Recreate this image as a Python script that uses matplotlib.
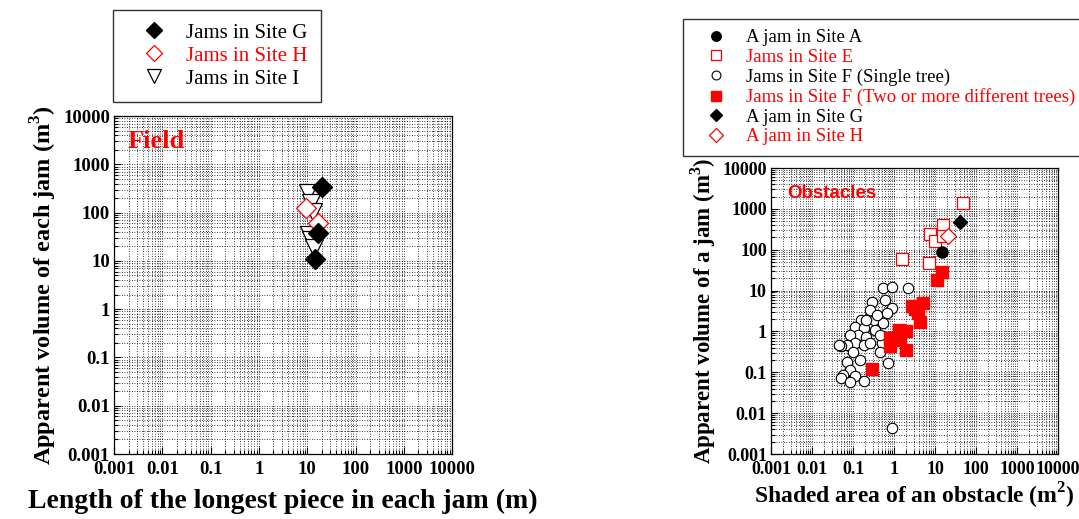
import matplotlib
matplotlib.use("Agg")
import matplotlib.pyplot as plt
from matplotlib.ticker import LogLocator, FuncFormatter

plt.rcParams['font.family'] = ['Liberation Serif', 'DejaVu Serif']
plt.rcParams['mathtext.fontset'] = 'custom'
plt.rcParams['mathtext.rm'] = 'Liberation Serif:bold'
plt.rcParams['mathtext.bf'] = 'Liberation Serif:bold'

# ---- left panel (field) ----
g_len = [20, 14.5, 17]
g_vol = [340, 11, 38]
h_len = [16.6, 9.5]
h_vol = [61, 125]
i_len = [10.5, 12, 13, 11, 12, 14]
i_vol = [257, 158, 103, 35, 27, 18.6]

# ---- right panel (obstacles) ----
a_area = [15]
a_vol = [87]
e_area = [49, 16, 7.6, 10, 16, 1.55, 7.1]
e_vol = [1370, 410, 240, 166, 220, 61, 47]
f1_area = [0.55, 0.87, 2.2, 0.60, 0.87, 0.29, 0.26, 0.16, 0.32, 0.55, 0.11, 0.18,
           0.35, 0.135, 0.21, 0.085, 0.11, 0.071, 0.18, 0.50, 0.052, 0.46, 0.10,
           0.15, 0.72, 0.071, 0.085, 0.057, 0.11, 0.18, 0.046, 0.052, 0.085,
           0.87, 0.26, 0.26, 0.38, 0.21, 0.66, 0.46]
f1_vol = [11.5, 12.6, 11.5, 5.9, 3.7, 5.4, 2.3, 1.9, 1.9, 1.6, 1.3, 1.2,
          1.1, 0.83, 0.75, 0.83, 0.52, 0.47, 0.47, 0.52, 0.43, 0.32, 0.32,
          0.20, 0.17, 0.18, 0.115, 0.087, 0.079, 0.060, 0.47, 0.072, 0.058,
          0.0044, 0.53, 3.4, 2.5, 1.9, 2.8, 0.83]
f2_area = [14.5, 11, 5.2, 2.7, 3.9, 4.3, 1.3, 2.0, 0.8, 1.4, 0.8, 2.0, 0.29, 3.3]
f2_vol = [29, 18, 4.9, 4.1, 2.8, 1.7, 1.1, 1.0, 0.69, 0.63, 0.43, 0.35, 0.12, 3.5]
g2_area = [41]
g2_vol = [470]
h2_area = [21]
h2_vol = [220]

ticks = [0.001, 0.01, 0.1, 1, 10, 100, 1000, 10000]


def style_axes(ax, fs):
    ax.set_xscale('log')
    ax.set_yscale('log')
    ax.set_xlim(0.001, 10000)
    ax.set_ylim(0.001, 10000)
    ax.set_xticks(ticks)
    ax.set_yticks(ticks)
    fmt = FuncFormatter(lambda v, p: '%g' % v)
    ax.xaxis.set_major_formatter(fmt)
    ax.yaxis.set_major_formatter(fmt)
    ax.xaxis.set_minor_locator(LogLocator(base=10, subs=range(2, 10), numticks=20))
    ax.yaxis.set_minor_locator(LogLocator(base=10, subs=range(2, 10), numticks=20))
    ax.xaxis.set_minor_formatter(FuncFormatter(lambda v, p: ''))
    ax.yaxis.set_minor_formatter(FuncFormatter(lambda v, p: ''))
    ax.tick_params(which='both', direction='in', labelsize=fs, width=0.8)
    ax.tick_params(axis='x', pad=5)
    ax.tick_params(axis='y', pad=3)
    ax.tick_params(which='major', length=5)
    ax.tick_params(which='minor', length=3)
    for lab in ax.get_xticklabels() + ax.get_yticklabels():
        lab.set_fontweight('bold')
    ax.grid(which='both', color='k', linestyle=(0, (1, 2)), linewidth=0.6)
    for sp in ax.spines.values():
        sp.set_linewidth(0.9)


fig = plt.figure(figsize=(10.79, 5.19), dpi=100)

ax1 = fig.add_axes([0.1057, 0.1252, 0.3133, 0.651])
style_axes(ax1, 13.5)
ax1.plot(i_len, i_vol, 'v', ms=13, mfc='white', mec='k', mew=0.9, label='Jams in Site I', zorder=3)
ax1.plot(h_len, h_vol, 'D', ms=10, mfc='white', mec='red', mew=0.9, label='Jams in Site H', zorder=4)
ax1.plot(g_len, g_vol, 'D', ms=10.5, mfc='k', mec='k', label='Jams in Site G', zorder=5)
ax1.text(0.0019, 2200, 'Field', color='red', fontsize=19, fontweight='bold', va='baseline')
ax1.set_xlabel('Length of the longest piece in each jam (m)', fontsize=20, fontweight='bold', labelpad=8)
ax1.set_ylabel(r'Apparent volume of each jam (m$^{\mathbf{3}}$)', fontsize=17.5, fontweight='bold', labelpad=3)

h, l = ax1.get_legend_handles_labels()
order = [2, 1, 0]
leg1 = fig.legend([h[k] for k in order], [l[k] for k in order],
                  loc='upper left', bbox_to_anchor=(113 / 1079, 1 - 10 / 519),
                  prop={'size': 15}, frameon=True, fancybox=False, edgecolor='k',
                  borderpad=0.62, labelspacing=0.17, handletextpad=0.2,
                  borderaxespad=0, markerscale=0.8, handlelength=2.7)
leg1.get_frame().set_linewidth(1.0)
for txt, c in zip(leg1.get_texts(), ['k', 'red', 'k']):
    txt.set_color(c)

ax2 = fig.add_axes([0.7146, 0.1252, 0.266, 0.551])
style_axes(ax2, 13)
ax2.plot(f1_area, f1_vol, 'o', ms=7.5, mfc='white', mec='k', mew=0.8, label='Jams in Site F (Single tree)', zorder=3)
ax2.plot(f2_area, f2_vol, 's', ms=8.5, mfc='red', mec='red', label='Jams in Site F (Two or more different trees)', zorder=4)
ax2.plot(e_area, e_vol, 's', ms=8.5, mfc='white', mec='red', mew=0.9, label='Jams in Site E', zorder=4)
ax2.plot(a_area, a_vol, 'o', ms=8, mfc='k', mec='k', label='A jam in Site A', zorder=5)
ax2.plot(g2_area, g2_vol, 'D', ms=7.5, mfc='k', mec='k', label='A jam in Site G', zorder=5)
ax2.plot(h2_area, h2_vol, 'D', ms=8, mfc='white', mec='red', mew=0.9, label='A jam in Site H', zorder=5)
ax2.text(0.0025, 1850, 'Obstacles', color='red', fontsize=13.5, fontweight='bold',
         family='Liberation Sans', va='baseline')
ax2.set_xlabel(r'Shaded area of an obstacle (m$^{\mathbf{2}}$)', fontsize=17, fontweight='bold', labelpad=2)
ax2.set_ylabel(r'Apparent volume of a jam (m$^{\mathbf{3}}$)', fontsize=16.5, fontweight='bold', labelpad=3)

h, l = ax2.get_legend_handles_labels()
order = [3, 2, 0, 1, 4, 5]
leg2 = fig.legend([h[k] for k in order], [l[k] for k in order],
                  loc='upper left', bbox_to_anchor=(683 / 1079, 1 - 19 / 519),
                  prop={'size': 13.5}, frameon=True, fancybox=False, edgecolor='k',
                  borderpad=0.55, labelspacing=0.13, handletextpad=0.39,
                  borderaxespad=0, markerscale=0.85, handlelength=2.41)
leg2.get_frame().set_linewidth(1.0)
for txt, c in zip(leg2.get_texts(), ['k', 'red', 'k', 'red', 'k', 'red']):
    txt.set_color(c)

fig.savefig('out.png', dpi=100)
